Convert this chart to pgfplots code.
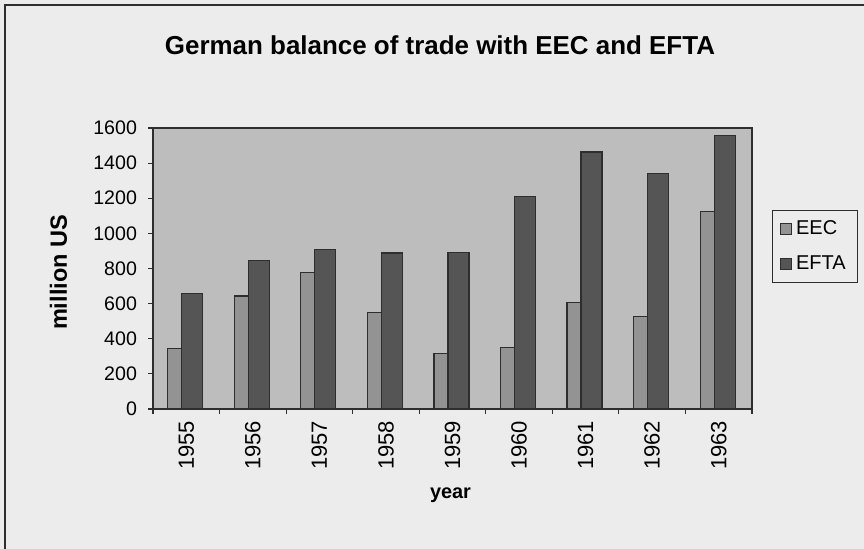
\documentclass[border=0pt]{standalone}
\usepackage{fontspec}
\setmainfont{Liberation Sans}
\usepackage{graphicx}
\usepackage{pgfplots}
\usepackage{pgfplotstable}
\pgfplotsset{compat=1.18}

\definecolor{pagebg}{HTML}{ECECEC}
\definecolor{plotbg}{HTML}{BDBDBD}
\definecolor{eec}{HTML}{939393}
\definecolor{efta}{HTML}{555555}
\definecolor{framec}{HTML}{2E2E2E}

\pgfplotstableread{
idx EEC EFTA
0 345 659
1 643 845
2 778 909
3 548 888
4 317 890
5 349 1209
6 605 1463
7 526 1342
8 1124 1555
}\datatable

\begin{document}
\begin{tikzpicture}
\useasboundingbox (0pt,0pt) rectangle (432pt,274.5pt);
\fill[pagebg] (0pt,0pt) rectangle (432pt,274.5pt);
\draw[line width=0.6pt, color=framec] (2.5pt,-5pt) -- (2.5pt,272pt) -- (440pt,272pt);
\node[anchor=center] at (220pt,252pt) {\resizebox{275pt}{!}{\bfseries German balance of trade with EEC and EFTA}};
\begin{axis}[
  at={(76.5pt,70pt)}, anchor=south west,
  scale only axis, width=299.5pt, height=140.5pt,
  xmin=-0.5, xmax=8.5, ymin=0, ymax=1600,
  xtick={-0.5,0.5,...,8.5},
  x tick label as interval,
  xticklabels={1955,1956,1957,1958,1959,1960,1961,1962,1963},
  ytick={0,200,...,1600},
  scaled y ticks=false,
  /pgf/number format/1000 sep={},
  /pgf/number format/assume math mode=true,
  xtick pos=left, ytick pos=left,
  tick align=outside,
  major tick length=2.5pt,
  tick style={draw=framec, line width=0.6pt},
  axis line style={draw=framec, line width=0.8pt},
  axis background/.style={fill=plotbg},
  yticklabel style={font=\fontsize{9.8}{11}\selectfont, xshift=-2pt},
  xticklabel style={font=\fontsize{11}{13}\selectfont, rotate=90, anchor=east},
  ylabel={\resizebox{57.5pt}{!}{\bfseries million US}},
  ylabel style={at={(axis description cs:-0.158,0.486)}, anchor=center},
  xlabel={\resizebox{20.5pt}{!}{\bfseries year}},
  xlabel style={at={(axis description cs:0.4967,-0.306)}, anchor=center},
  legend style={at={(1.0334,0.708)}, anchor=north west, draw=framec, line width=0.5pt,
    fill=none, font=\fontsize{10}{12}\selectfont, inner xsep=4pt, inner ysep=3pt,
    row sep=5pt, /tikz/every even column/.append style={column sep=2pt}},
  legend cell align=left,
  legend image code/.code={\draw[#1, line width=0.4pt] (0pt,-2.7pt) rectangle (5.4pt,2.7pt);},
]
\addplot[ybar, bar width=10.5pt, bar shift=-4pt, fill=eec, draw=framec, line width=0.6pt]
  table[x=idx,y=EEC]{\datatable};
\addplot[ybar, bar width=10.5pt, bar shift=3pt, fill=efta, draw=framec, line width=0.6pt]
  table[x=idx,y=EFTA]{\datatable};
\legend{EEC,EFTA}
\end{axis}
\end{tikzpicture}
\end{document}
